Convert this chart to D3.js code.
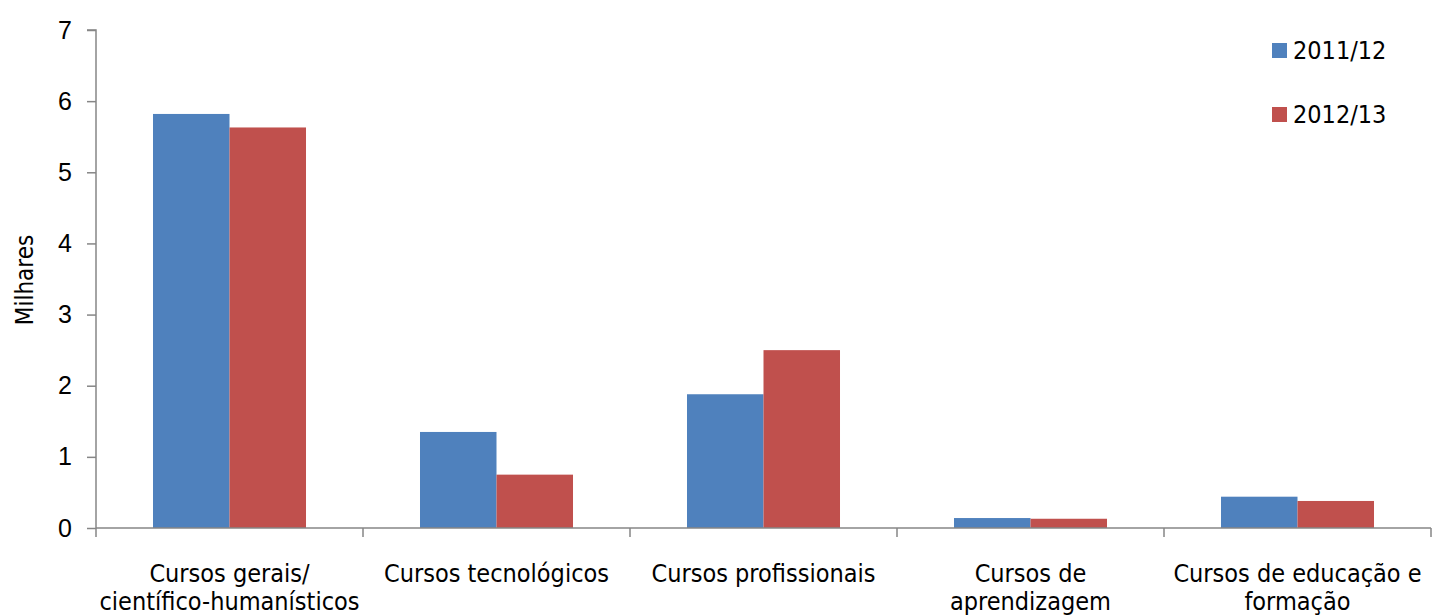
<!DOCTYPE html>
<html>
<head>
<meta charset="utf-8">
<script src="https://cdn.jsdelivr.net/npm/d3@7"></script>
<style>
  html, body { margin: 0; padding: 0; background: #fff; }
  svg { display: block; font-family: "DejaVu Sans Condensed", "DejaVu Sans", sans-serif; }
</style>
</head>
<body>
<svg id="chart" width="1432" height="615"></svg>
<script>
const categories = [
  "Cursos gerais/ científico-humanísticos",
  "Cursos tecnológicos",
  "Cursos profissionais",
  "Cursos de aprendizagem",
  "Cursos de educação e formação"
];
const categoryLines = [
  ["Cursos gerais/", "científico-humanísticos"],
  ["Cursos tecnológicos"],
  ["Cursos profissionais"],
  ["Cursos de", "aprendizagem"],
  ["Cursos de educação e", "formação"]
];
const seriesNames = ["2011/12", "2012/13"];
const values2011 = [5.82, 1.35, 1.88, 0.14, 0.44];
const values2012 = [5.63, 0.75, 2.50, 0.13, 0.38];
const seriesColors = ["#4F81BD", "#C0504D"];
const yTicks = [0, 1, 2, 3, 4, 5, 6, 7];
const yTitle = "Milhares";

const seriesValues = [values2011, values2012];
const svg = d3.select("#chart");
const margin = {left: 96, right: 1, top: 30, bottom: 87};
const W = 1432, H = 615;
const plotL = margin.left, plotR = W - margin.right;
const plotT = margin.top, plotB = H - margin.bottom;
const fontSize = 25;
const axisColor = "#868686";

const x0 = d3.scaleBand().domain(categories).range([plotL, plotR]).paddingInner(0).paddingOuter(0);
const x1 = d3.scaleBand().domain(seriesNames).range([0, x0.bandwidth()]).paddingInner(0).paddingOuter(0.745);
const y = d3.scaleLinear().domain([0, 7]).range([plotB, plotT]);

// bars
const groups = svg.append("g").selectAll("g")
  .data(categories)
  .join("g")
  .attr("transform", d => `translate(${x0(d)},0)`);
groups.selectAll("rect")
  .data((d, i) => seriesNames.map((s, j) => ({s, v: seriesValues[j][i], j})))
  .join("rect")
  .attr("x", d => x1(d.s))
  .attr("width", x1.bandwidth())
  .attr("y", d => y(d.v))
  .attr("height", d => y(0) - y(d.v))
  .attr("fill", d => seriesColors[d.j]);

// y axis
const yAxis = d3.axisLeft(y).tickValues(yTicks).tickFormat(d3.format("d")).tickSize(9).tickPadding(15);
const gy = svg.append("g").attr("transform", `translate(${plotL},0)`).call(yAxis);
gy.select(".domain").attr("stroke", axisColor).attr("stroke-width", 1.5).attr("d", `M-9,${y(7)}H0V${y(0)}`);
gy.selectAll(".tick line").attr("stroke", axisColor).attr("stroke-width", 1.5);
gy.selectAll(".tick text").attr("font-size", fontSize).attr("fill", "#000").attr("font-family", null);

// x axis (category boundaries)
const boundaries = categories.map(c => x0(c)).concat([x0(categories[categories.length - 1]) + x0.bandwidth()]);
const gx = svg.append("g");
gx.append("line").attr("x1", plotL).attr("x2", plotR).attr("y1", y(0)).attr("y2", y(0))
  .attr("stroke", axisColor).attr("stroke-width", 1.5);
gx.selectAll("line.tick").data(boundaries).join("line").attr("class", "tick")
  .attr("x1", d => d).attr("x2", d => d).attr("y1", y(0)).attr("y2", y(0) + 9)
  .attr("stroke", axisColor).attr("stroke-width", 1.5);
const labels = gx.selectAll("text.cat").data(categories).join("text").attr("class", "cat")
  .attr("text-anchor", "middle").attr("font-size", fontSize).attr("fill", "#000")
  .attr("x", d => x0(d) + x0.bandwidth() / 2).attr("y", 582);
labels.each(function(d, i) {
  const t = d3.select(this);
  categoryLines[i].forEach((ln, k) => {
    t.append("tspan").attr("x", x0(d) + x0.bandwidth() / 2).attr("dy", k === 0 ? 0 : 28).text(ln);
  });
});

// y title
svg.append("text").attr("transform", `translate(33,280) rotate(-90)`)
  .attr("text-anchor", "middle").attr("font-size", fontSize - 1).attr("fill", "#000").text(yTitle);

// legend
const legend = svg.append("g").selectAll("g").data(seriesNames).join("g")
  .attr("transform", (d, i) => `translate(1272,${43 + i * 64})`);
legend.append("rect").attr("width", 15).attr("height", 15).attr("fill", (d, i) => seriesColors[i]);
legend.append("text").attr("x", 21).attr("y", 7.5).attr("dy", "0.35em")
  .attr("font-size", fontSize).attr("fill", "#000").text(d => d);
</script>
</body>
</html>
